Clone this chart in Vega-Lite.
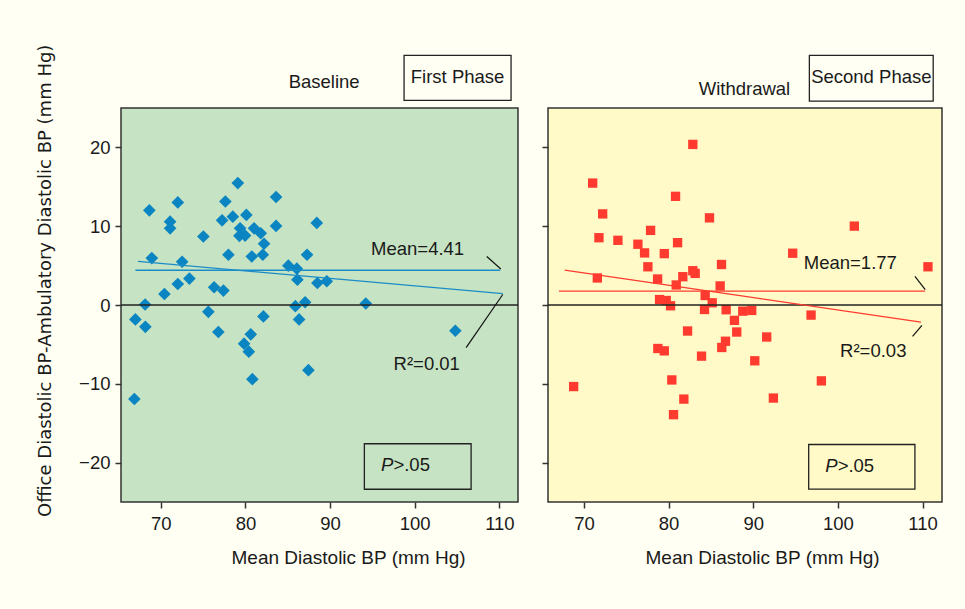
{
  "$schema": "https://vega.github.io/schema/vega-lite/v6.json",
  "background": "#fffff3",
  "padding": {"left": 35, "top": 43, "right": 25, "bottom": 50},
  "spacing": 30,
  "bounds": "flush",
  "config": {
    "font": "Liberation Sans",
    "view": {"stroke": "#333333", "strokeWidth": 1.5},
    "axis": {
      "domain": false, "grid": false, "ticks": true, "tickSize": 6, "tickWidth": 1.5, "tickColor": "#333333",
      "labelFont": "Liberation Sans", "labelFontSize": 18.5, "labelColor": "#1a1a1a",
      "titleFont": "Liberation Sans", "titleFontSize": 19, "titleFontWeight": "normal", "titleColor": "#1a1a1a"
    },
    "text": {"font": "Liberation Sans", "fontSize": 18.5, "color": "#1a1a1a"}
  },
  "hconcat": [
    {
      "width": 397,
      "height": 394,
      "view": {"fill": "#c6e3c3", "stroke": "#333333", "strokeWidth": 1.5},
      "layer": [
        {
          "data": {"values": [
            {"x":79.10,"y":15.47},{"x":68.65,"y":12.01},{"x":72.01,"y":13.02},{"x":77.63,"y":13.14},{"x":83.62,"y":13.70},
            {"x":71.10,"y":10.58},{"x":71.10,"y":9.73},{"x":77.24,"y":10.74},{"x":78.51,"y":11.21},{"x":80.11,"y":11.43},
            {"x":88.43,"y":10.42},{"x":83.62,"y":10.04},{"x":75.03,"y":8.69},{"x":79.37,"y":9.73},{"x":79.29,"y":8.78},
            {"x":79.96,"y":8.81},{"x":81.02,"y":9.73},{"x":81.81,"y":9.10},{"x":82.20,"y":7.77},{"x":77.99,"y":6.38},
            {"x":80.75,"y":6.16},{"x":82.05,"y":6.38},{"x":87.28,"y":6.38},{"x":68.94,"y":5.95},{"x":72.52,"y":5.49},
            {"x":85.07,"y":4.99},{"x":86.07,"y":4.61},{"x":86.14,"y":3.22},{"x":88.50,"y":2.79},{"x":89.61,"y":3.01},
            {"x":73.38,"y":3.35},{"x":72.01,"y":2.66},{"x":76.30,"y":2.25},{"x":77.40,"y":1.83},{"x":70.43,"y":1.40},
            {"x":68.15,"y":0.06},{"x":67.00,"y":-1.83},{"x":68.18,"y":-2.77},{"x":75.62,"y":-0.87},{"x":76.80,"y":-3.43},
            {"x":82.12,"y":-1.45},{"x":80.63,"y":-3.72},{"x":79.84,"y":-4.91},{"x":80.40,"y":-5.92},{"x":80.82,"y":-9.41},
            {"x":85.90,"y":-0.15},{"x":87.05,"y":0.35},{"x":86.34,"y":-1.83},{"x":87.44,"y":-8.27},{"x":94.22,"y":0.19},
            {"x":104.80,"y":-3.27},{"x":66.88,"y":-11.93}
          ]},
          "mark": {"type": "point", "shape": "diamond", "filled": true, "size": 160, "color": "#0a85c2", "opacity": 1},
          "encoding": {
            "x": {"field": "x", "type": "quantitative", "scale": {"domain": [65.3, 112.2], "nice": false, "zero": false},
                  "axis": {"values": [70, 80, 90, 100, 110], "title": "Mean Diastolic BP (mm Hg)", "labelPadding": 6,
                           "titleX": 227, "titleY": 55, "titleBaseline": "middle"}},
            "y": {"field": "y", "type": "quantitative", "scale": {"domain": [-25, 25], "nice": false, "zero": false},
                  "axis": {"values": [-20, -10, 0, 10, 20], "title": "Office Diastolic BP-Ambulatory Diastolic BP (mm Hg)",
                           "titleFont": "DejaVu Sans", "titleFontSize": 18, "titleX": -76, "titleY": 172.3, "titleBaseline": "middle",
                           "labelPadding": 5}}
          }
        },
        {
          "data": {"values": [{"y": 0}]},
          "mark": {"type": "rule", "color": "#222222", "strokeWidth": 1.3},
          "encoding": {"y": {"field": "y", "type": "quantitative"}}
        },
        {
          "data": {"values": [{"x": 67.0, "x2": 110.1, "y": 4.41}]},
          "mark": {"type": "rule", "color": "#1a8cc8", "strokeWidth": 1.3},
          "encoding": {"x": {"field": "x", "type": "quantitative"}, "x2": {"field": "x2"}, "y": {"field": "y", "type": "quantitative"}}
        },
        {
          "data": {"values": [{"x": 67.3, "y": 5.53, "x2": 110.4, "y2": 1.45}]},
          "mark": {"type": "rule", "color": "#1a8cc8", "strokeWidth": 1.3},
          "encoding": {"x": {"field": "x", "type": "quantitative"}, "x2": {"field": "x2"}, "y": {"field": "y", "type": "quantitative"}, "y2": {"field": "y2"}}
        },
        {
          "data": {"values": [{"x": 108.51, "y": 6.16, "x2": 110.17, "y2": 4.56}, {"x": 110.4, "y": 1.33, "x2": 106.07, "y2": -5.42}]},
          "mark": {"type": "rule", "color": "#111111", "strokeWidth": 1.2},
          "encoding": {"x": {"field": "x", "type": "quantitative"}, "x2": {"field": "x2"}, "y": {"field": "y", "type": "quantitative"}, "y2": {"field": "y2"}}
        },
        {
          "data": {"values": [{"x": 100.34, "y": 7.17, "t": "Mean=4.41"}, {"x": 101.42, "y": -7.44, "t": "R²=0.01"}, {"x": 89.3, "y": 28.26, "t": "Baseline"}, {"x": 105.06, "y": 28.9, "t": "First Phase"}]},
          "mark": {"type": "text", "align": "center", "baseline": "middle"},
          "encoding": {"x": {"field": "x", "type": "quantitative"}, "y": {"field": "y", "type": "quantitative"}, "text": {"field": "t"}}
        },
        {
          "data": {"values": [{"x": 94.05, "x2": 106.66, "y": -17.61, "y2": -23.38}, {"x": 98.74, "x2": 111.38, "y": 31.67, "y2": 25.98}]},
          "mark": {"type": "rect", "fillOpacity": 0, "stroke": "#222222", "strokeWidth": 1.3},
          "encoding": {"x": {"field": "x", "type": "quantitative"}, "x2": {"field": "x2"}, "y": {"field": "y", "type": "quantitative"}, "y2": {"field": "y2"}}
        },
        {
          "data": {"values": [{"x": 97.48, "y": -20.35, "t": "P"}]},
          "mark": {"type": "text", "align": "right", "baseline": "middle", "fontStyle": "italic"},
          "encoding": {"x": {"field": "x", "type": "quantitative"}, "y": {"field": "y", "type": "quantitative"}, "text": {"field": "t"}}
        },
        {
          "data": {"values": [{"x": 97.48, "y": -20.35, "t": ">.05"}]},
          "mark": {"type": "text", "align": "left", "baseline": "middle"},
          "encoding": {"x": {"field": "x", "type": "quantitative"}, "y": {"field": "y", "type": "quantitative"}, "text": {"field": "t"}}
        }
      ]
    },
    {
      "width": 394,
      "height": 394,
      "view": {"fill": "#fffac7", "stroke": "#333333", "strokeWidth": 1.5},
      "layer": [
        {
          "data": {"values": [
            {"x":82.86,"y":20.38},{"x":71.03,"y":15.47},{"x":80.82,"y":13.79},{"x":72.21,"y":11.56},{"x":84.83,"y":11.06},
            {"x":101.94,"y":10.01},{"x":77.87,"y":9.47},{"x":71.77,"y":8.54},{"x":74.01,"y":8.21},{"x":76.37,"y":7.71},
            {"x":81.06,"y":7.91},{"x":77.16,"y":6.61},{"x":79.49,"y":6.52},{"x":94.66,"y":6.57},{"x":86.25,"y":5.14},
            {"x":110.64,"y":4.85},{"x":77.55,"y":4.85},{"x":82.86,"y":4.35},{"x":83.14,"y":4.01},{"x":81.68,"y":3.59},
            {"x":71.58,"y":3.43},{"x":78.70,"y":3.30},{"x":80.90,"y":2.54},{"x":86.09,"y":2.42},{"x":84.32,"y":1.20},
            {"x":85.15,"y":0.28},{"x":78.93,"y":0.69},{"x":79.72,"y":0.57},{"x":80.23,"y":-0.10},{"x":84.24,"y":-0.57},
            {"x":86.80,"y":-0.60},{"x":88.76,"y":-0.78},{"x":89.82,"y":-0.69},{"x":87.78,"y":-1.95},{"x":96.83,"y":-1.28},
            {"x":82.24,"y":-3.30},{"x":88.05,"y":-3.43},{"x":91.59,"y":-4.06},{"x":86.72,"y":-4.60},{"x":86.28,"y":-5.39},
            {"x":78.73,"y":-5.52},{"x":79.49,"y":-5.82},{"x":83.89,"y":-6.49},{"x":90.18,"y":-7.08},{"x":80.38,"y":-9.51},
            {"x":68.78,"y":-10.35},{"x":98.05,"y":-9.63},{"x":81.80,"y":-11.94},{"x":92.38,"y":-11.81},{"x":80.58,"y":-13.92}
          ]},
          "mark": {"type": "point", "shape": "square", "filled": true, "size": 87, "color": "#ff3a2e", "opacity": 1},
          "encoding": {
            "x": {"field": "x", "type": "quantitative", "scale": {"domain": [65.75, 112.3], "nice": false, "zero": false},
                  "axis": {"values": [70, 80, 90, 100, 110], "title": "Mean Diastolic BP (mm Hg)", "labelPadding": 6,
                           "titleX": 214, "titleY": 55, "titleBaseline": "middle"}},
            "y": {"field": "y", "type": "quantitative", "scale": {"domain": [-25, 25], "nice": false, "zero": false},
                  "axis": {"values": [-20, -10, 0, 10, 20], "labels": false, "title": null}}
          }
        },
        {
          "data": {"values": [{"y": 0}]},
          "mark": {"type": "rule", "color": "#222222", "strokeWidth": 1.3},
          "encoding": {"y": {"field": "y", "type": "quantitative"}}
        },
        {
          "data": {"values": [{"x": 67.05, "x2": 110.3, "y": 1.77}]},
          "mark": {"type": "rule", "color": "#ff3a2e", "strokeWidth": 1.3},
          "encoding": {"x": {"field": "x", "type": "quantitative"}, "x2": {"field": "x2"}, "y": {"field": "y", "type": "quantitative"}}
        },
        {
          "data": {"values": [{"x": 67.72, "y": 4.43, "x2": 109.81, "y2": -2.17}]},
          "mark": {"type": "rule", "color": "#ff3a2e", "strokeWidth": 1.3},
          "encoding": {"x": {"field": "x", "type": "quantitative"}, "x2": {"field": "x2"}, "y": {"field": "y", "type": "quantitative"}, "y2": {"field": "y2"}}
        },
        {
          "data": {"values": [{"x": 109.1, "y": 3.63, "x2": 110.32, "y2": 1.95}, {"x": 109.93, "y": -2.58, "x2": 108.82, "y2": -3.97}]},
          "mark": {"type": "rule", "color": "#111111", "strokeWidth": 1.2},
          "encoding": {"x": {"field": "x", "type": "quantitative"}, "x2": {"field": "x2"}, "y": {"field": "y", "type": "quantitative"}, "y2": {"field": "y2"}}
        },
        {
          "data": {"values": [{"x": 101.47, "y": 5.39, "t": "Mean=1.77"}, {"x": 104.18, "y": -5.82, "t": "R²=0.03"}, {"x": 88.96, "y": 27.43, "t": "Withdrawal"}, {"x": 103.95, "y": 28.9, "t": "Second Phase"}]},
          "mark": {"type": "text", "align": "center", "baseline": "middle"},
          "encoding": {"x": {"field": "x", "type": "quantitative"}, "y": {"field": "y", "type": "quantitative"}, "text": {"field": "t"}}
        },
        {
          "data": {"values": [{"x": 96.55, "x2": 109.1, "y": -17.7, "y2": -23.36}, {"x": 96.63, "x2": 111.26, "y": 31.67, "y2": 25.88}]},
          "mark": {"type": "rect", "fillOpacity": 0, "stroke": "#222222", "strokeWidth": 1.3},
          "encoding": {"x": {"field": "x", "type": "quantitative"}, "x2": {"field": "x2"}, "y": {"field": "y", "type": "quantitative"}, "y2": {"field": "y2"}}
        },
        {
          "data": {"values": [{"x": 99.97, "y": -20.49, "t": "P"}]},
          "mark": {"type": "text", "align": "right", "baseline": "middle", "fontStyle": "italic"},
          "encoding": {"x": {"field": "x", "type": "quantitative"}, "y": {"field": "y", "type": "quantitative"}, "text": {"field": "t"}}
        },
        {
          "data": {"values": [{"x": 99.97, "y": -20.49, "t": ">.05"}]},
          "mark": {"type": "text", "align": "left", "baseline": "middle"},
          "encoding": {"x": {"field": "x", "type": "quantitative"}, "y": {"field": "y", "type": "quantitative"}, "text": {"field": "t"}}
        }
      ]
    }
  ]
}
